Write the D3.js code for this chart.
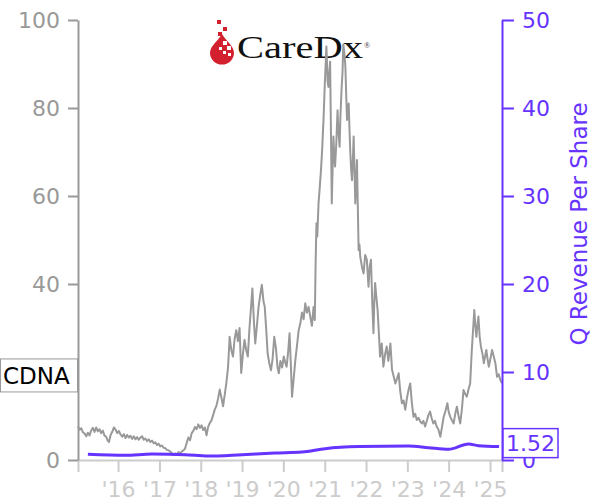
<!DOCTYPE html>
<html><head><meta charset="utf-8">
<script src="https://cdn.jsdelivr.net/npm/d3@7"></script>
<style>body{margin:0;background:#fff}svg{display:block}text{font-family:"DejaVu Sans",sans-serif}</style>
</head><body><svg id="c" width="600" height="500"></svg>
<script>
// ---- data (decimal year, value) ----
const priceSeries = [
[2015.03,7.6],[2015.07,6.9],[2015.11,7.2],[2015.15,6.3],[2015.19,6.0],[2015.23,5.4],[2015.27,6.2],[2015.31,5.6],
[2015.35,6.7],[2015.39,7.3],[2015.43,6.4],[2015.47,7.4],[2015.51,6.5],[2015.55,7.0],[2015.59,6.1],[2015.63,6.7],
[2015.67,5.6],[2015.71,5.3],[2015.75,4.4],[2015.78,4.1],[2015.82,5.7],[2015.86,6.4],[2015.90,7.4],[2015.94,6.9],
[2015.98,6.1],[2016.02,6.6],[2016.06,5.8],[2016.10,5.3],[2016.14,5.9],[2016.18,5.0],[2016.22,5.7],[2016.26,5.1],
[2016.30,5.5],[2016.34,4.8],[2016.38,5.4],[2016.42,4.7],[2016.46,5.2],[2016.50,4.6],[2016.54,5.1],[2016.58,5.4],
[2016.62,4.6],[2016.66,4.9],[2016.70,4.3],[2016.74,4.7],[2016.78,4.1],[2016.82,4.4],[2016.86,3.8],[2016.90,4.0],
[2016.94,3.4],[2016.98,3.7],[2017.02,3.1],[2017.06,3.3],[2017.10,2.8],[2017.14,2.7],[2017.18,2.3],[2017.22,2.2],
[2017.26,1.9],[2017.30,1.6],[2017.34,1.1],[2017.38,1.5],[2017.42,1.3],[2017.46,1.8],[2017.50,1.5],[2017.54,1.9],
[2017.58,2.2],[2017.62,2.6],[2017.66,3.9],[2017.70,5.1],[2017.74,4.5],[2017.78,6.1],[2017.82,6.6],[2017.86,7.5],
[2017.90,7.0],[2017.94,8.1],[2017.98,7.3],[2018.02,7.9],[2018.06,6.8],[2018.10,7.4],[2018.14,5.6],[2018.18,7.6],
[2018.22,8.4],[2018.26,9.0],[2018.30,10.2],[2018.34,11.5],[2018.38,12.3],[2018.42,14.0],[2018.46,16.0],[2018.50,14.2],
[2018.54,12.2],[2018.58,14.8],[2018.62,17.5],[2018.66,21.0],[2018.70,28.0],[2018.74,25.0],[2018.78,23.5],[2018.82,27.5],
[2018.86,29.5],[2018.90,27.0],[2018.94,30.0],[2018.98,19.8],[2019.02,24.0],[2019.06,27.3],[2019.10,25.0],[2019.14,23.5],
[2019.18,30.0],[2019.22,35.0],[2019.25,39.0],[2019.29,31.0],[2019.32,26.5],[2019.36,30.5],[2019.40,34.8],[2019.44,37.5],
[2019.48,39.8],[2019.52,36.0],[2019.55,34.8],[2019.59,29.0],[2019.62,24.2],[2019.66,22.0],[2019.70,20.4],[2019.74,23.0],
[2019.78,28.0],[2019.82,25.5],[2019.86,21.0],[2019.89,19.7],[2019.93,22.5],[2019.97,21.0],[2020.01,23.5],[2020.05,22.0],
[2020.08,21.2],[2020.12,25.0],[2020.15,28.8],[2020.18,22.0],[2020.21,14.4],[2020.25,18.5],[2020.29,22.7],[2020.33,26.0],
[2020.37,29.5],[2020.41,31.0],[2020.45,33.5],[2020.49,32.0],[2020.53,35.6],[2020.57,33.5],[2020.61,34.8],[2020.65,32.6],
[2020.69,30.5],[2020.73,34.8],[2020.76,31.8],[2020.78,45.0],[2020.80,53.8],[2020.82,50.8],[2020.85,58.3],[2020.88,62.0],
[2020.91,66.0],[2020.94,71.0],[2020.97,77.3],[2021.00,85.0],[2021.04,94.0],[2021.07,86.0],[2021.09,84.8],[2021.11,88.0],
[2021.13,90.5],[2021.15,75.0],[2021.17,58.3],[2021.19,66.0],[2021.21,73.5],[2021.23,69.0],[2021.25,66.7],[2021.28,72.0],
[2021.31,79.5],[2021.33,75.0],[2021.36,71.2],[2021.38,78.0],[2021.41,84.8],[2021.43,88.0],[2021.45,94.5],[2021.48,92.0],
[2021.50,89.4],[2021.52,83.0],[2021.54,77.3],[2021.56,80.0],[2021.58,81.0],[2021.60,75.0],[2021.62,69.7],[2021.64,66.0],
[2021.66,63.6],[2021.68,68.0],[2021.70,73.5],[2021.72,66.0],[2021.74,58.3],[2021.76,63.0],[2021.78,68.2],[2021.80,58.0],
[2021.82,47.7],[2021.84,49.0],[2021.86,46.2],[2021.90,44.0],[2021.94,42.4],[2021.98,46.6],[2022.02,45.5],[2022.06,39.4],
[2022.09,44.0],[2022.12,45.5],[2022.15,36.0],[2022.18,28.8],[2022.20,36.0],[2022.22,40.2],[2022.25,37.0],[2022.28,34.1],
[2022.31,29.0],[2022.34,23.5],[2022.38,26.5],[2022.42,21.2],[2022.46,24.0],[2022.50,25.8],[2022.54,22.5],[2022.59,26.5],
[2022.63,20.5],[2022.67,19.0],[2022.71,17.4],[2022.75,18.5],[2022.79,19.7],[2022.83,15.5],[2022.87,12.9],[2022.91,13.5],
[2022.95,11.4],[2022.99,14.0],[2023.03,16.0],[2023.07,17.4],[2023.11,13.0],[2023.15,9.8],[2023.19,10.5],[2023.23,9.1],
[2023.27,9.6],[2023.31,8.8],[2023.35,8.3],[2023.39,8.9],[2023.43,7.6],[2023.47,8.8],[2023.51,10.2],[2023.55,11.0],
[2023.59,9.5],[2023.63,8.3],[2023.67,8.9],[2023.71,7.6],[2023.75,7.0],[2023.80,5.3],[2023.84,7.5],[2023.88,9.8],
[2023.92,11.0],[2023.97,12.9],[2024.00,11.0],[2024.04,9.8],[2024.08,9.0],[2024.12,8.3],[2024.16,10.5],[2024.20,12.1],
[2024.24,10.0],[2024.28,8.3],[2024.32,11.5],[2024.36,15.9],[2024.40,15.0],[2024.44,14.4],[2024.48,16.0],[2024.52,17.4],
[2024.56,25.0],[2024.60,31.0],[2024.62,34.1],[2024.65,30.0],[2024.67,28.0],[2024.70,31.0],[2024.72,32.6],[2024.75,28.0],
[2024.78,25.8],[2024.82,24.0],[2024.85,22.0],[2024.88,23.5],[2024.91,25.0],[2024.94,23.0],[2024.97,21.2],[2025.01,23.0],
[2025.05,25.0],[2025.09,23.5],[2025.13,22.0],[2025.17,18.9],[2025.21,19.5],[2025.25,18.2],[2025.29,17.4]
];
const revenueSeries = [
[2015.27,0.65],[2016.17,0.53],[2016.82,0.68],[2017.62,0.61],[2018.18,0.45],[2019.00,0.61],[2019.80,0.80],
[2020.45,0.91],[2021.01,1.29],[2021.82,1.52],[2023.03,1.59],[2023.51,1.40],[2024.00,1.21],[2024.48,1.82],
[2024.72,1.63],[2025.22,1.52]
];
const leftTicks = [0,20,40,60,80,100];
const rightTicks = [0,10,20,30,40,50];
const yearTicks = [2016,2017,2018,2019,2020,2021,2022,2023,2024,2025];
const tickerLabel = "CDNA";
const rightTitle = "Q Revenue Per Share";
const lastRevenueLabel = "1.52";

// ---- helpers ----
function toDate(dy){
  const y = Math.floor(dy), s = new Date(y,0,1), e = new Date(y+1,0,1);
  return new Date(+s + (dy - y) * (e - s));
}
const price = priceSeries.map(d=>({date:toDate(d[0]), v:d[1]}));
const rev = revenueSeries.map(d=>({date:toDate(d[0]), v:d[1]}));

const PURPLE = "#6633ff";
const svg = d3.select("#c");
const L = 78, R = 502, T = 20, B = 460;

const x = d3.scaleTime().domain(d3.extent(price, d=>d.date)).range([L, R]);
const yL = d3.scaleLinear().domain([0,100]).range([B, T]);
const yR = d3.scaleLinear().domain([0,50]).range([B, T]);

// ---- logo ----
const logo = svg.append("g");
logo.append("path")
  .attr("d","M222,34 C218,41 210,46 210,53 A12,11.5 0 0 0 234,53 C234,46 226,41 222,34 Z")
  .attr("fill","#d3202f");
[[217,20,4,4],[223,27,4,4],[218,32,4,4]].forEach(r=>logo.append("rect")
  .attr("x",r[0]).attr("y",r[1]).attr("width",r[2]).attr("height",r[3]).attr("fill","#d3202f"));
[[223,41,4,4],[227,46,4,4],[223,51,3,3],[228,53,3,3],[219,47,3,3]].forEach(r=>logo.append("rect")
  .attr("x",r[0]).attr("y",r[1]).attr("width",r[2]).attr("height",r[3]).attr("fill","#fff"));
logo.append("text").attr("x",237).attr("y",58)
  .style("font-family","'Liberation Serif',serif").style("font-size","31px").attr("fill","#111")
  .attr("textLength",126).attr("lengthAdjust","spacingAndGlyphs").text("CareDx");
logo.append("text").attr("x",364).attr("y",48)
  .style("font-family","'Liberation Serif',serif").style("font-size","8px").attr("fill","#333").text("®");

// ---- lines ----
svg.append("path").datum(price)
  .attr("fill","none").attr("stroke","#999").attr("stroke-width",2)
  .attr("stroke-linejoin","round")
  .attr("d", d3.line().x(d=>x(d.date)).y(d=>yL(d.v)));
svg.append("path").datum(rev)
  .attr("fill","none").attr("stroke",PURPLE).attr("stroke-width",3)
  .attr("d", d3.line().curve(d3.curveMonotoneX).x(d=>x(d.date)).y(d=>yR(d.v)));

// ---- axes ----
const gx = svg.append("g").attr("transform",`translate(0,${B})`)
  .call(d3.axisBottom(x).tickValues(yearTicks.map(y=>new Date(y,0,1)))
    .tickFormat(d3.timeFormat("'%y")).tickSize(12).tickSizeOuter(12).tickPadding(9));
gx.selectAll("path,line").attr("stroke","#ccc").attr("stroke-width",2);
gx.selectAll("text").attr("fill","#ccc").style("font-size","22px").style("font-family","'DejaVu Sans',sans-serif");

const gl = svg.append("g").attr("transform",`translate(${L},0)`)
  .call(d3.axisLeft(yL).tickValues(leftTicks).tickSize(10).tickSizeOuter(0).tickPadding(8));
gl.selectAll("path,line").attr("stroke","#999").attr("stroke-width",2);
gl.selectAll("text").attr("fill","#999").style("font-size","22px").style("font-family","'DejaVu Sans',sans-serif");

const gr = svg.append("g").attr("transform",`translate(${R},0)`)
  .call(d3.axisRight(yR).tickValues(rightTicks).tickSize(12).tickSizeOuter(0).tickPadding(8));
gr.selectAll("path,line").attr("stroke",PURPLE).attr("stroke-width",2);
gr.selectAll("text").attr("fill",PURPLE).style("font-size","22px").style("font-family","'DejaVu Sans',sans-serif");

svg.append("text").attr("transform","translate(587,224) rotate(-90)")
  .attr("text-anchor","middle").attr("fill",PURPLE).style("font-size","23px").text(rightTitle);

// ---- end labels ----
const lastP = price[price.length-1];
const cy = yL(lastP.v) - 8;
svg.append("rect").attr("x",0.5).attr("y",cy-16.5).attr("width",77).attr("height",33)
  .attr("fill","#fff").attr("stroke","#999").attr("stroke-width",1);
svg.append("text").attr("x",3).attr("y",cy).attr("dy","0.36em").attr("fill","#000")
  .style("font-size","23px").text(tickerLabel);

const lastR = rev[rev.length-1];
const ry = yR(lastR.v) - 3.5;
svg.append("rect").attr("x",503).attr("y",ry-14.5).attr("width",55).attr("height",29)
  .attr("fill","#fff").attr("stroke",PURPLE).attr("stroke-width",1.5);
svg.append("text").attr("x",506).attr("y",ry).attr("dy","0.36em").attr("fill",PURPLE)
  .style("font-size","22px").text(lastRevenueLabel);
</script></body></html>
